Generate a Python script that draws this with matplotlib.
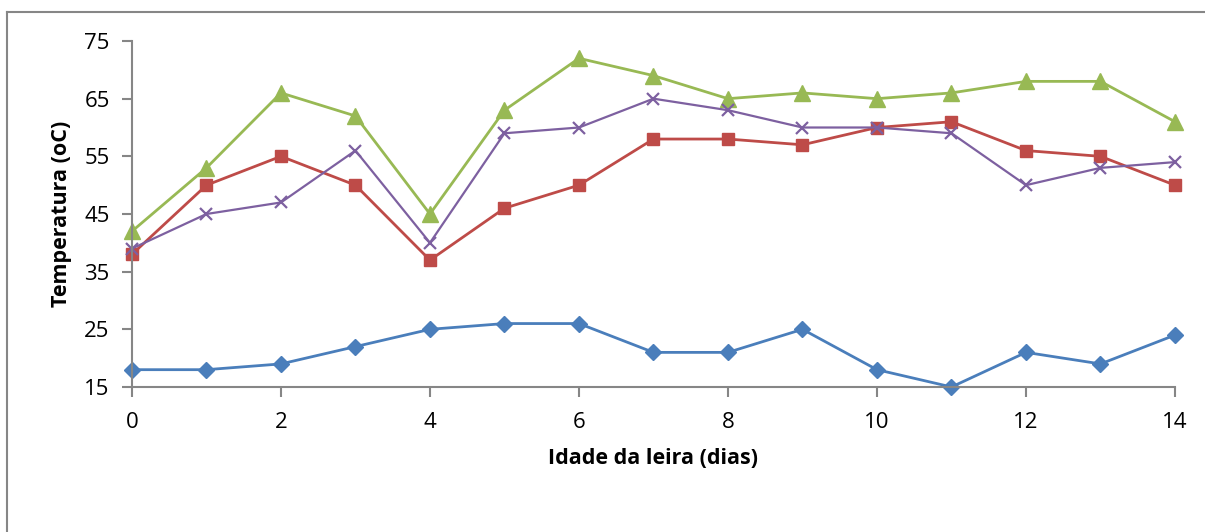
import matplotlib.pyplot as plt
from matplotlib.lines import Line2D

plt.rcParams['font.family'] = ['Open Sans', 'DejaVu Sans']

# idade da leira (dias) e temperaturas medidas
dias = list(range(15))
temp_azul = [18, 18, 19, 22, 25, 26, 26, 21, 21, 25, 18, 15, 21, 19, 24]
temp_vermelho = [38, 50, 55, 50, 37, 46, 50, 58, 58, 57, 60, 61, 56, 55, 50]
temp_verde = [42, 53, 66, 62, 45, 63, 72, 69, 65, 66, 65, 66, 68, 68, 61]
temp_roxo = [39, 45, 47, 56, 40, 59, 60, 65, 63, 60, 60, 59, 50, 53, 54]

fig = plt.figure(figsize=(12.05, 5.32), dpi=100)
ax = fig.add_axes([0.1095, 0.2726, 0.8656, 0.6503])

ax.plot(dias, temp_azul, color='#4a7ebb', lw=2, marker='D', ms=8, clip_on=False)
ax.plot(dias, temp_vermelho, color='#be4b48', lw=2, marker='s', ms=9, clip_on=False)
ax.plot(dias, temp_verde, color='#98b954', lw=2, marker='^', ms=11, clip_on=False)
ax.plot(dias, temp_roxo, color='#7d60a0', lw=1.6, marker='x', ms=9, mew=1.6, clip_on=False)

ax.set_xlim(0, 14)
ax.set_ylim(15, 75)
ax.set_xticks(range(0, 15, 2))
ax.set_yticks(range(15, 76, 10))

for s in ['top', 'right']:
    ax.spines[s].set_visible(False)
for s in ['left', 'bottom']:
    ax.spines[s].set_color('#868686')
    ax.spines[s].set_linewidth(1.5)
ax.tick_params(colors='#868686', width=1.5, length=7, labelsize=16, labelcolor='black')
ax.tick_params(axis='x', pad=11)
ax.tick_params(axis='y', pad=9)

ax.set_xlabel('Idade da leira (dias)', fontsize=15.5, fontweight='bold', labelpad=11)
ax.set_ylabel('Temperatura (oC)', fontsize=15.5, fontweight='bold', labelpad=9)

# moldura do gráfico (só topo e esquerda aparecem)
fig.add_artist(Line2D([7 / 1205, 7 / 1205], [0, 1 - 12 / 532], color='#868686', lw=1.5))
fig.add_artist(Line2D([7 / 1205, 1], [1 - 12 / 532, 1 - 12 / 532], color='#868686', lw=1.5))

fig.savefig('out.png', dpi=100)
